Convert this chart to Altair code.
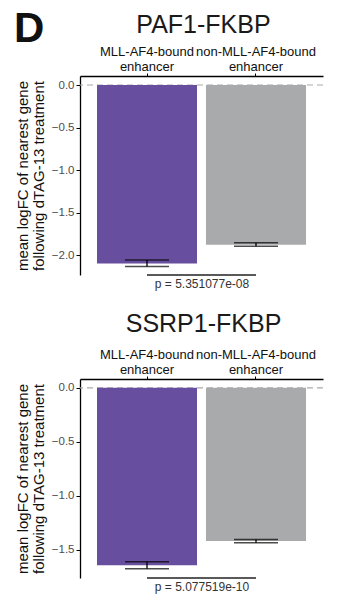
import altair as alt
import pandas as pd

# ---- data ----
categories = ["MLL-AF4-bound|enhancer", "non-MLL-AF4-bound|enhancer"]
bar_colors = ["#684e9e", "#a8aaab"]

panel_titles = ["PAF1-FKBP", "SSRP1-FKBP"]
p_labels = ["p = 5.351077e-08", "p = 5.077519e-10"]

paf1_mean = [-2.100, -1.878]
paf1_lo = [-2.135, -1.898]
paf1_hi = [-2.060, -1.855]

ssrp1_mean = [-1.645, -1.420]
ssrp1_lo = [-1.677, -1.436]
ssrp1_hi = [-1.612, -1.405]

y_domains = [[-2.235, 0.106], [-1.762, 0.082]]
y_ticks = [[0.0, -0.5, -1.0, -1.5, -2.0], [0.0, -0.5, -1.0, -1.5]]

W, H = 243, 199
FONT = "Liberation Sans"


def panel(title, means, los, his, domain, ticks, ptext, title_dy, letter=None):
    bars = pd.DataFrame({"cat": categories, "mean": means, "color": bar_colors})
    err = pd.DataFrame({"cat": categories, "lo": los, "hi": his})
    caps = pd.DataFrame({"cat": categories * 2, "v": los + his})
    bracket = pd.DataFrame({"a": [categories[0]], "b": [categories[1]],
                            "y": [domain[0]], "label": [ptext]})
    zero = pd.DataFrame({"y": [0.0]})

    xs = alt.Scale(domain=categories, paddingInner=0.0826, paddingOuter=0.156)
    ys = alt.Scale(domain=domain, nice=False, zero=False)

    xaxis = alt.Axis(orient="top", title=None, labelAngle=0,
                     labelExpr="split(datum.label, '|')",
                     labelFontSize=13, labelColor="#111", labelLineHeight=15,
                     labelBaseline="bottom",
                     labelPadding=15, tickSize=3, tickColor="#000",
                     domainColor="#000", domainWidth=1.3, tickWidth=1)
    yaxis = alt.Axis(title=["mean logFC of nearest gene", "following dTAG-13 treatment"],
                     values=ticks, format=".1f", labelFontSize=11.5,
                     labelColor="#4d4d4d", tickSize=4, tickColor="#000",
                     domainColor="#000", domainWidth=1.3, labelPadding=2,
                     titleFontSize=15, titleFontWeight="normal",
                     titleLineHeight=16,
                     titleColor="#111", titlePadding=5, grid=False)

    base_x = alt.X("cat:N", scale=xs, axis=xaxis, sort=categories)

    zero_line = alt.Chart(zero).mark_rule(color="#aaaaaa", strokeDash=[6, 4],
                                          strokeWidth=1.2).encode(
        y=alt.Y("y:Q", scale=ys, axis=yaxis))

    bar_layer = alt.Chart(bars).mark_bar().encode(
        x=base_x,
        y=alt.Y("mean:Q", scale=ys, axis=yaxis),
        color=alt.Color("color:N", scale=None),
    )
    stem = alt.Chart(err).mark_rule(color="#000", strokeWidth=1.3).encode(
        x=base_x, y=alt.Y("lo:Q", scale=ys), y2="hi:Q")
    cap_layer = alt.Chart(caps).mark_tick(color="#000", orient="horizontal",
                                          size=44, thickness=1.5).encode(
        x=base_x, y=alt.Y("v:Q", scale=ys))
    br = alt.Chart(bracket).mark_rule(color="#222", strokeWidth=1.3).encode(
        x=alt.X("a:N", scale=xs, axis=xaxis, bandPosition=0.5),
        x2=alt.X2("b:N", bandPosition=0.5),
        y=alt.Y("y:Q", scale=ys))
    ptxt = alt.Chart(bracket).mark_text(fontSize=12, color="#333", font=FONT,
                                        baseline="top", dy=4).encode(
        x=alt.value(W / 2 + 0.5), y=alt.Y("y:Q", scale=ys), text="label:N")

    ttl = alt.Chart(pd.DataFrame({"t": [title]})).mark_text(
        fontSize=25, font=FONT, color="#1a1a1a", align="center",
        baseline="alphabetic").encode(
        x=alt.value(W / 2 + 2), y=alt.value(title_dy), text="t:N")

    layers = [zero_line, bar_layer, stem, cap_layer, br, ptxt, ttl]
    if letter:
        layers.append(alt.Chart(pd.DataFrame({"t": [letter]})).mark_text(
            fontSize=42, fontWeight="bold", font=FONT, color="#111",
            align="left", baseline="alphabetic").encode(
            x=alt.value(-66), y=alt.value(-34), text="t:N"))

    return alt.layer(*layers).properties(width=W, height=H)


top = panel(panel_titles[0], paf1_mean, paf1_lo, paf1_hi, y_domains[0],
            y_ticks[0], p_labels[0], -43, letter="D")
bottom = panel(panel_titles[1], ssrp1_mean, ssrp1_lo, ssrp1_hi, y_domains[1],
               y_ticks[1], p_labels[1], -47)

chart = alt.vconcat(top, bottom, spacing=22).properties(
    padding={"left": 14, "top": 8, "right": 11, "bottom": 2}
).configure(font=FONT).configure_view(stroke=None)

chart.save("out.html", embed_options={"renderer": "svg", "actions": False})
